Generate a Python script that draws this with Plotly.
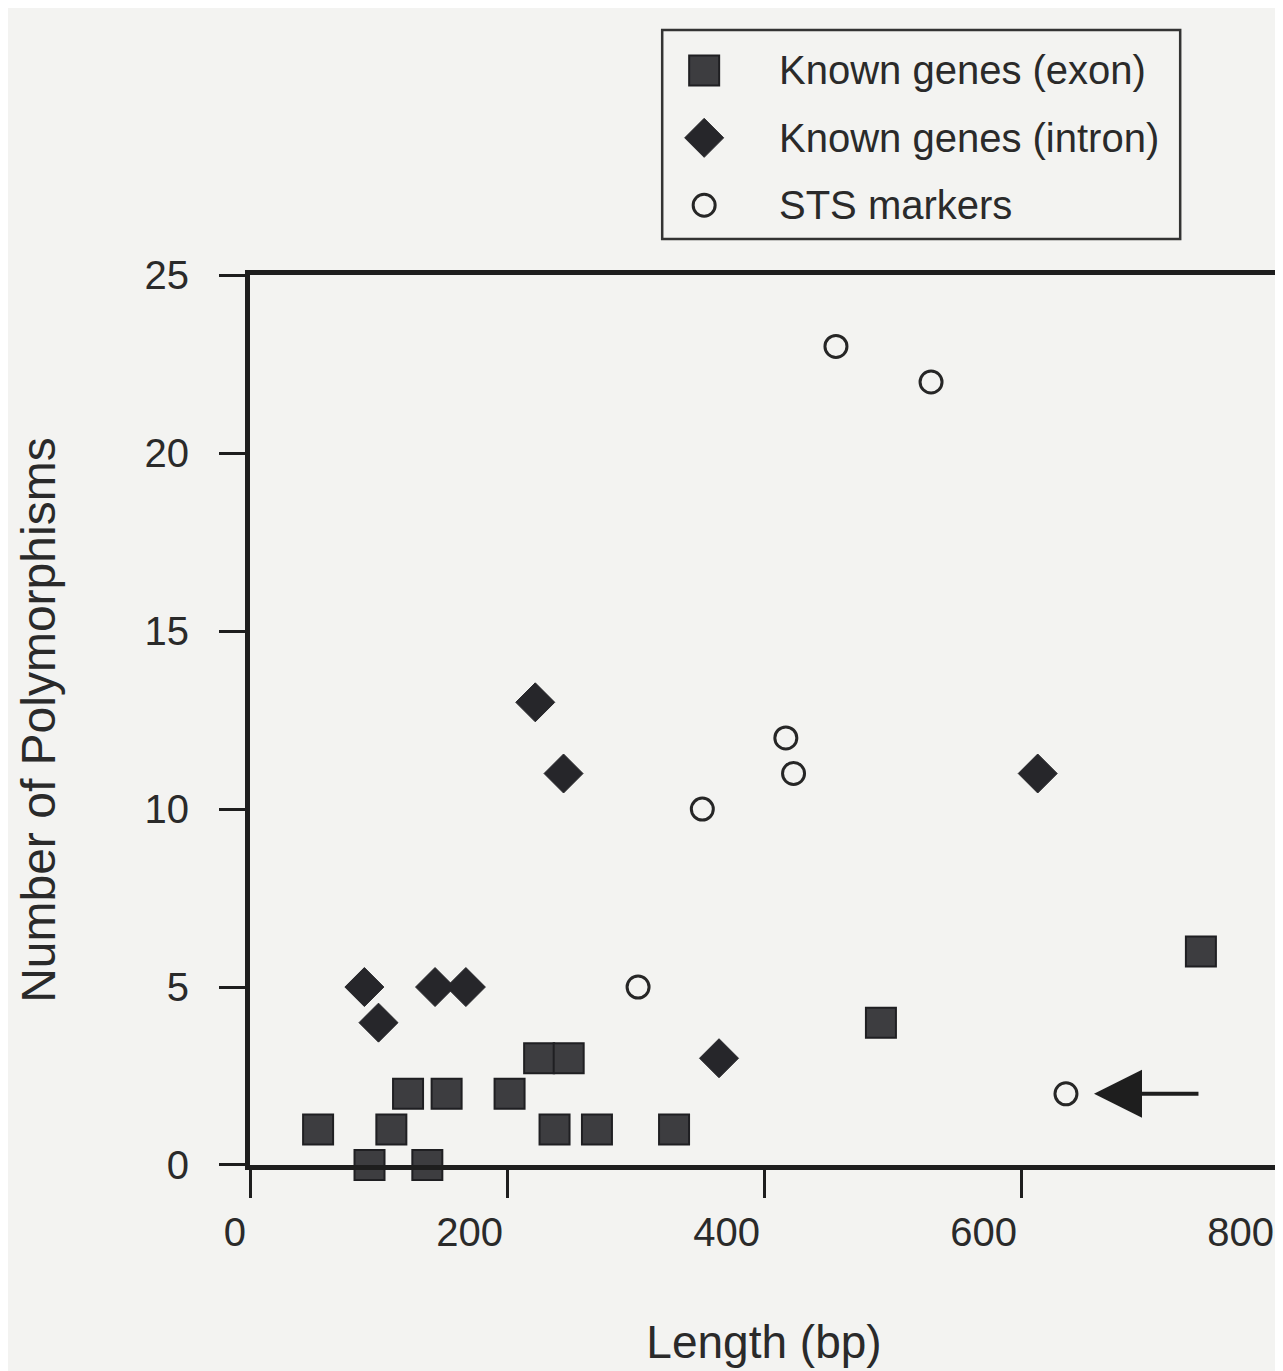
import plotly.graph_objects as go

# ---------------- data ----------------
EXON_LEN = [53, 93, 110, 123, 138, 153, 202, 225, 248, 237, 270, 330, 491, 740]
EXON_POLY = [1, 0, 1, 2, 0, 2, 2, 3, 3, 1, 1, 1, 4, 6]

INTRON_LEN = [89, 100, 144, 168, 222, 244, 365, 613]
INTRON_POLY = [5, 4, 5, 5, 13, 11, 3, 11]

STS_LEN = [302, 352, 417, 423, 456, 530, 635]
STS_POLY = [5, 10, 12, 11, 23, 22, 2]

SERIES_NAMES = ["Known genes (exon)", "Known genes (intron)", "STS markers"]

X_TICKS = [0, 200, 400, 600, 800]
Y_TICKS = [0, 5, 10, 15, 20, 25]

X_TITLE = "Length (bp)"
Y_TITLE = "Number of Polymorphisms"

# arrow points at this STS marker (index into STS arrays)
ARROW_INDEX = 6

# ---------------- styles ----------------
BG = "#f3f3f1"
INK = "#1e1e1e"
TXT = "#2a2a2a"
FONT = "Liberation Sans, Arial, Helvetica, sans-serif"

styles = [
    dict(symbol="square", size=30, color="#3d3d40", line=dict(color="#1f1f22", width=2)),
    dict(symbol="diamond", size=30, color="#26262a", line=dict(color="#26262a", width=1)),
    dict(symbol="circle-open", size=22, color="#262626", line=dict(color="#262626", width=3)),
]

data = [(EXON_LEN, EXON_POLY), (INTRON_LEN, INTRON_POLY), (STS_LEN, STS_POLY)]

fig = go.Figure()

for (xs, ys), name, st in zip(data, SERIES_NAMES, styles):
    fig.add_trace(go.Scatter(
        x=xs, y=ys, mode="markers", name=name, showlegend=False,
        marker=st, cliponaxis=False, xaxis="x", yaxis="y",
    ))

# ---- custom legend (keys drawn on a hidden overlay axis) ----
n = len(SERIES_NAMES)
for i, (name, st) in enumerate(zip(SERIES_NAMES, styles)):
    row = n - 1 - i
    fig.add_trace(go.Scatter(
        x=[0.081], y=[row], mode="markers", name=name, showlegend=False,
        marker=st, cliponaxis=False, xaxis="x2", yaxis="y2", hoverinfo="skip",
    ))
    fig.add_annotation(
        x=0.222, y=row, xref="x2", yref="y2", text=name, showarrow=False,
        xanchor="left", yanchor="middle",
        font=dict(family=FONT, size=40, color=TXT),
    )

fig.add_shape(type="rect", xref="x2 domain", yref="y2 domain",
              x0=0, x1=1, y0=0, y1=1, line=dict(color="#333333", width=2.5),
              fillcolor="rgba(0,0,0,0)")

# ---- arrow pointing at one STS marker ----
fig.add_annotation(
    x=STS_LEN[ARROW_INDEX], y=STS_POLY[ARROW_INDEX], xref="x", yref="y",
    text="", showarrow=True, ax=134, ay=0, axref="pixel", ayref="pixel",
    arrowhead=2, arrowsize=2.4, arrowwidth=4, arrowcolor=INK, standoff=28,
)

# page offset from the default body margin
OFF = 8
W, H = 1283 - OFF, 1371 - OFF
ML, MR, MT, MB = 250 - OFF, 3, 0, 206
plot_w = W - ML - MR
paper_h = H - MT - MB
base = H - MB  # figure y of the plot bottom


def fy(page_y):
    return (base - (page_y - OFF)) / paper_h


def fx(page_x):
    return ((page_x - OFF) - ML) / plot_w


fig.update_layout(
    width=W, height=H,
    margin=dict(l=ML, r=MR, t=MT, b=MB),
    paper_bgcolor=BG, plot_bgcolor=BG,
    font=dict(family=FONT, color=TXT),
    showlegend=False,
    xaxis=dict(
        range=[0, 800], domain=[0, 1], anchor="y",
        tickvals=X_TICKS, ticktext=[str(v) for v in X_TICKS],
        ticks="outside", ticklen=28, tickwidth=3, tickcolor=INK,
        showline=True, linewidth=5, linecolor=INK, mirror=True,
        showgrid=False, zeroline=False,
        ticklabelposition="outside left", ticklabelstandoff=28,
        tickfont=dict(family=FONT, size=40, color=TXT),
        title=dict(text=X_TITLE, standoff=74,
                   font=dict(family=FONT, size=46, color=TXT)),
    ),
    yaxis=dict(
        range=[0, 25], domain=[0, fy(258)], anchor="x",
        tickvals=Y_TICKS, ticktext=[str(v) for v in Y_TICKS],
        ticks="outside", ticklen=26, tickwidth=3, tickcolor=INK,
        showline=True, linewidth=5, linecolor=INK, mirror=True,
        showgrid=False, zeroline=False, ticklabelstandoff=22,
        tickfont=dict(family=FONT, size=40, color=TXT),
        title=dict(text=Y_TITLE, standoff=75,
                   font=dict(family=FONT, size=48, color=TXT)),
    ),
    xaxis2=dict(
        domain=[fx(663), fx(1182)],
        range=[0, 1], anchor="y2", visible=False, fixedrange=True,
    ),
    yaxis2=dict(
        domain=[fy(221), min(1.0, fy(8))],
        range=[-0.5, 2.6], anchor="x2", visible=False, fixedrange=True,
    ),
)

fig.write_html("out.html")
